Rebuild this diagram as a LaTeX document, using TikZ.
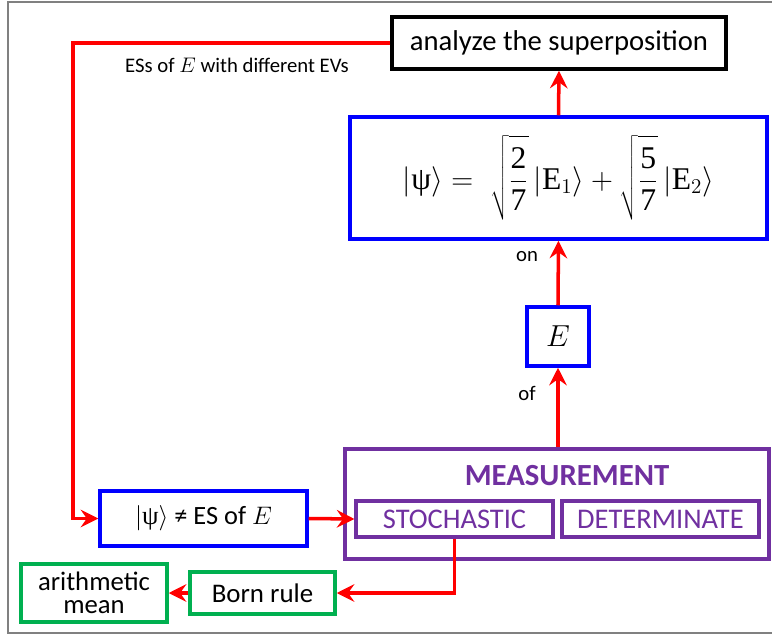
\documentclass[tikz,border=0pt]{standalone}
\usepackage{fontspec}
\setmainfont{Carlito}
\newfontfamily\grfont{Liberation Serif}
\usetikzlibrary{arrows.meta}
\definecolor{qred}{RGB}{255,0,0}
\definecolor{qblue}{RGB}{0,0,255}
\definecolor{qpurple}{RGB}{112,48,160}
\definecolor{qgreen}{RGB}{0,176,80}
\newcommand{\uppsi}{\mbox{\grfont ψ}}
\newcommand{\upE}{\mbox{\grfont E}}
\newcommand{\tallfrac}[2]{\frac{\rule{0pt}{15pt}\mbox{\grfont #1}}{\mbox{\grfont #2}\rule[-5pt]{0pt}{5pt}}}
\tikzset{
  box/.style={draw, line width=2pt, fill=white, inner sep=0pt, align=center},
  bluebox/.style={box, draw=qblue},
  greenbox/.style={box, draw=qgreen},
  purplebox/.style={box, draw=qpurple, line width=1.8pt, text=qpurple},
  link/.style={draw=qred, line width=2pt, -{Stealth[length=10pt, width=10pt, inset=3.5pt]}},
  note/.style={inner sep=0pt, font=\fontsize{11.8}{14}\selectfont}
}
\begin{document}
\begin{tikzpicture}[x=0.02cm, y=-0.02cm]
  \useasboundingbox (0,0) rectangle (772,636);
  \draw (772,2)--(8,2)--(8,633)--(772,633) [gray, line width=0.9pt];
  % boxes
  \node (analyze) at (559,43) [box, minimum width=6.68cm, minimum height=1.04cm, font=\fontsize{16.3}{19}\selectfont] {analyze the superposition};
  \node (eq) at (558.5,178) [bluebox, minimum width=8.34cm, minimum height=2.44cm, font=\fontsize{18}{21}\selectfont]
    {$\displaystyle |\uppsi\rangle =\; \sqrt{\tallfrac{2}{7}}\,|\upE_1\rangle + \sqrt{\tallfrac{5}{7}}\,|\upE_2\rangle$};
  \node (E) at (558,336.5) [bluebox, minimum width=1.24cm, minimum height=1.18cm, font=\fontsize{18}{21}\selectfont] {$E$};
  \node (meas) at (557,504) [purplebox, minimum width=8.48cm, minimum height=2.2cm] {};
  \node (meastitle) at (567,476) [text=qpurple, font=\fontsize{17.5}{20}\selectfont\bfseries] {MEASUREMENT};
  \node (stoch) at (454.5,519) [purplebox, minimum width=3.94cm, minimum height=0.72cm, font=\fontsize{16.2}{19}\selectfont] {STOCHASTIC};
  \node (determ) at (660.5,519) [purplebox, minimum width=3.94cm, minimum height=0.72cm, font=\fontsize{16.2}{19}\selectfont] {DETERMINATE};
  \node (psi) at (203.5,518.5) [bluebox, minimum width=4.14cm, minimum height=1.1cm, font=\fontsize{15}{18}\selectfont] {$|\uppsi\rangle$ ≠ ES of $E$};
  \node (born) at (262.5,593) [greenbox, minimum width=2.9cm, minimum height=0.84cm, font=\fontsize{15.3}{18}\selectfont] {Born rule};
  \node (arith) at (94,593) [greenbox, minimum width=2.92cm, minimum height=1.16cm, font=\fontsize{15.2}{13}\selectfont] {arithmetic\\mean};
  % labels
  \node (esslabel) at (237,65) [note] {ESs of $E$ with different EVs};
  \node (onlabel) at (527,257) [note] {on};
  \node (oflabel) at (527,393) [note] {of};
  % connectors
  \coordinate (bend) at (73,43);
  \draw [link] (E |- meas.north) -- (E.south);
  \draw [link] (E.north) -- (eq.south);
  \draw [link] (eq.north) -- (analyze.south);
  \draw [link] (analyze.west) -- (bend) |- (psi.west);
  \draw [link] (psi.east) -- (stoch.west);
  \draw [link] (stoch.south) |- (born.east);
  \draw [link] (born.west) -- (arith.east);
\end{tikzpicture}
\end{document}
